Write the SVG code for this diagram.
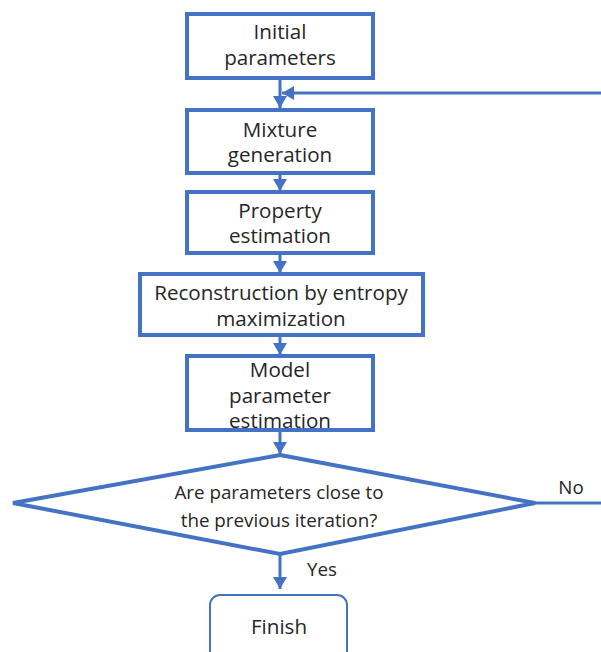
<svg xmlns="http://www.w3.org/2000/svg" width="601" height="652" viewBox="0 0 601 652">
<style>
.box{fill:#fff;stroke:#4472C4;stroke-width:4}
.fin{fill:#fff;stroke:#4472C4;stroke-width:2}
.conn{fill:none;stroke:#4472C4;stroke-width:3}
text{font-family:"Open Sans","Liberation Sans",sans-serif;fill:#262626;text-anchor:middle}
.t{font-size:20.6px}
.d{font-size:18.8px}
</style>
<defs>
<marker id="ah" markerUnits="userSpaceOnUse" markerWidth="14" markerHeight="14" refX="12" refY="7" orient="auto">
<path d="M0,0 L12,7 L0,14 Z" fill="#4472C4"/>
</marker>
</defs>
<rect width="601" height="652" fill="#fff"/>
<g id="connectors">
<line class="conn" x1="280" y1="78" x2="280" y2="108" marker-end="url(#ah)"/>
<line class="conn" x1="601" y1="93" x2="282" y2="93" marker-end="url(#ah)"/>
<line class="conn" x1="280" y1="173" x2="280" y2="191" marker-end="url(#ah)"/>
<line class="conn" x1="280" y1="253" x2="280" y2="273" marker-end="url(#ah)"/>
<line class="conn" x1="280" y1="335" x2="280" y2="355" marker-end="url(#ah)"/>
<line class="conn" x1="280" y1="430" x2="280" y2="454" marker-end="url(#ah)"/>
<line class="conn" x1="280" y1="554" x2="280" y2="589" marker-end="url(#ah)"/>
<line class="conn" x1="535" y1="503" x2="601" y2="503"/>
<text class="d" x="571" y="494">No</text>
<text class="d" x="322" y="576">Yes</text>
</g>
<g id="n1">
<rect class="box" x="187" y="14" width="186" height="64"/>
<text class="t" x="280" y="39">Initial</text>
<text class="t" x="280" y="65">parameters</text>
</g>
<g id="n2">
<rect class="box" x="187" y="110" width="186" height="63"/>
<text class="t" x="280" y="137">Mixture</text>
<text class="t" x="280" y="162">generation</text>
</g>
<g id="n3">
<rect class="box" x="187" y="192" width="186" height="61"/>
<text class="t" x="280" y="218">Property</text>
<text class="t" x="280" y="243">estimation</text>
</g>
<g id="n4">
<rect class="box" x="140" y="274" width="283" height="61"/>
<text class="t" x="281" y="300">Reconstruction by entropy</text>
<text class="t" x="281" y="326">maximization</text>
</g>
<g id="n5">
<rect class="box" x="187" y="356" width="186" height="74"/>
<text class="t" x="280" y="377">Model</text>
<text class="t" x="280" y="403">parameter</text>
<text class="t" x="280" y="428">estimation</text>
</g>
<g id="n6">
<polygon class="box" points="280,455 535,503 280,554 13,503" style="stroke-width:4;stroke-linejoin:miter"/>
<text class="d" x="279" y="499">Are parameters close to</text>
<text class="d" x="279" y="527">the previous iteration?</text>
</g>
<g id="n7">
<rect class="fin" x="210" y="595" width="137" height="70" rx="10"/>
<text class="t" x="279" y="634">Finish</text>
</g>
</svg>
